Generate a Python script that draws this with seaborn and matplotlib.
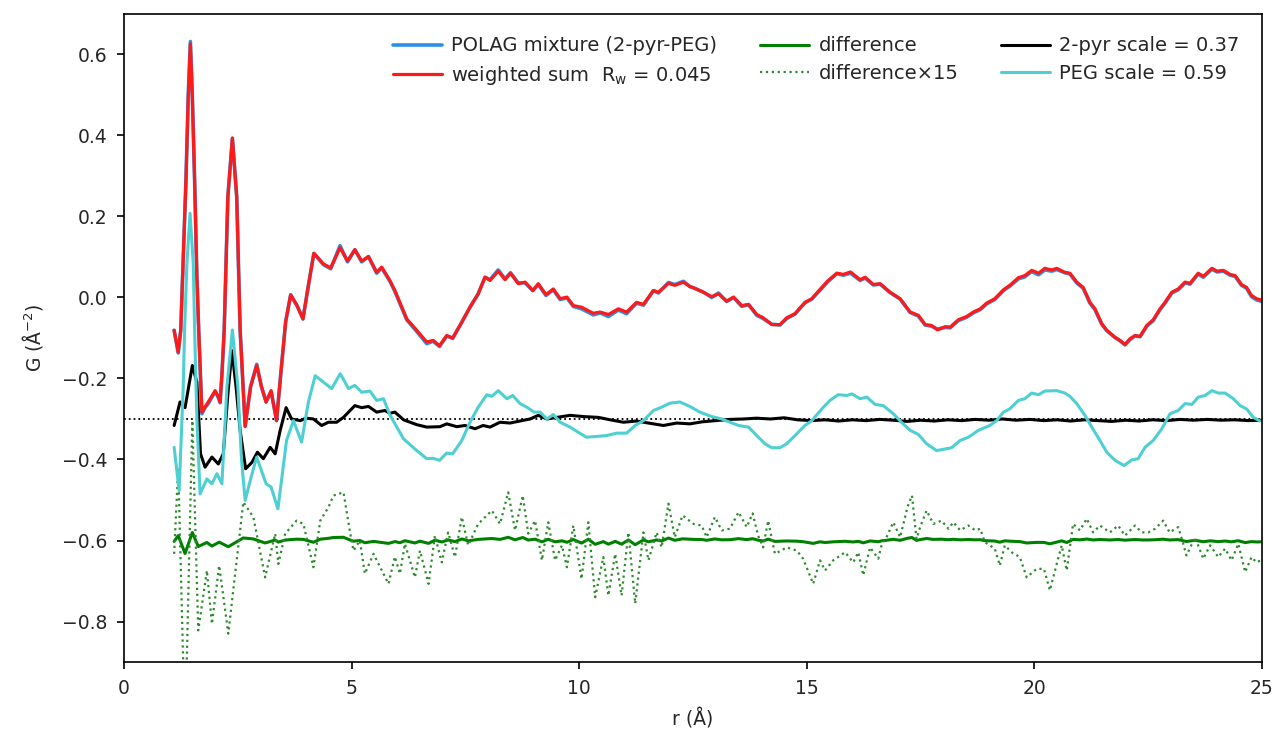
import numpy as np
import pandas as pd
import matplotlib
matplotlib.use("Agg")
import matplotlib.pyplot as plt
import seaborn as sns

# ---- PDF data (r in Angstrom, G in Angstrom^-2) ----
r_mix = [1.10, 1.19, 1.245, 1.30, 1.36, 1.41, 1.457, 1.50, 1.55, 1.60, 1.64, 1.71, 1.78, 1.85,
         2.00, 2.07, 2.11, 2.15, 2.20, 2.28, 2.38, 2.475, 2.55, 2.66, 2.78, 2.915, 3.02, 3.12,
         3.23, 3.35, 3.45, 3.55, 3.66, 3.80, 3.93, 4.05, 4.17, 4.38, 4.54, 4.745, 4.91, 5.07,
         5.22, 5.37, 5.55, 5.66, 5.84, 5.95, 6.21, 6.43, 6.65, 6.79, 6.93, 7.09, 7.22, 7.42,
         7.60, 7.78, 7.93, 8.04, 8.22, 8.37, 8.49, 8.66, 8.81, 8.98, 9.10, 9.27, 9.43, 9.58,
         9.73, 9.87, 10.05, 10.31, 10.46, 10.64, 10.86, 11.04, 11.26, 11.41, 11.63, 11.74, 11.96,
         12.10, 12.29, 12.43, 12.51, 12.73, 12.91, 13.06, 13.24, 13.39, 13.57, 13.72, 13.90,
         14.04, 14.23, 14.41, 14.56, 14.74, 14.96, 15.11, 15.33, 15.47, 15.66, 15.80, 15.96,
         16.17, 16.28, 16.46, 16.61, 16.83, 17.05, 17.27, 17.45, 17.60, 17.74, 17.87, 18.04,
         18.15, 18.33, 18.51, 18.66, 18.81, 18.95, 19.13, 19.32, 19.46, 19.65, 19.79, 19.94,
         20.09, 20.23, 20.38, 20.49, 20.67, 20.78, 20.93, 21.07, 21.22, 21.33, 21.48, 21.59,
         21.77, 21.88, 21.99, 22.10, 22.21, 22.32, 22.47, 22.61, 22.76, 22.87, 23.02, 23.16,
         23.31, 23.42, 23.60, 23.71, 23.90, 24.01, 24.15, 24.30, 24.41, 24.55, 24.66, 24.77,
         24.88, 24.97]

g_fit = [-0.081, -0.135, -0.080, 0.100, 0.289, 0.495, 0.626, 0.495, 0.289, 0.050, -0.080, -0.283,
         -0.270, -0.258, -0.230, -0.245, -0.258, -0.190, -0.080, 0.248, 0.394, 0.248, -0.080,
         -0.319, -0.220, -0.168, -0.220, -0.258, -0.230, -0.304, -0.180, -0.060, 0.007, -0.020,
         -0.053, 0.030, 0.109, 0.083, 0.073, 0.123, 0.090, 0.118, 0.090, 0.101, 0.062, 0.075,
         0.042, 0.017, -0.053, -0.081, -0.110, -0.106, -0.119, -0.094, -0.100, -0.061, -0.024,
         0.009, 0.050, 0.042, 0.065, 0.044, 0.060, 0.034, 0.038, 0.017, 0.034, 0.007, 0.021,
         -0.003, 0.001, -0.020, -0.024, -0.039, -0.036, -0.042, -0.028, -0.036, -0.012, -0.017,
         0.017, 0.013, 0.035, 0.030, 0.038, 0.027, 0.024, 0.013, 0.002, 0.009, -0.009, 0.001,
         -0.020, -0.017, -0.042, -0.050, -0.067, -0.067, -0.050, -0.040, -0.012, -0.003, 0.025,
         0.042, 0.060, 0.057, 0.063, 0.044, 0.050, 0.032, 0.034, 0.013, -0.003, -0.036, -0.044,
         -0.067, -0.069, -0.080, -0.072, -0.073, -0.055, -0.047, -0.036, -0.028, -0.014, -0.003,
         0.019, 0.030, 0.049, 0.054, 0.067, 0.060, 0.072, 0.068, 0.072, 0.062, 0.060, 0.038,
         0.025, -0.012, -0.028, -0.065, -0.081, -0.098, -0.106, -0.116, -0.102, -0.094, -0.096,
         -0.069, -0.055, -0.028, -0.012, 0.013, 0.021, 0.038, 0.035, 0.060, 0.052, 0.072, 0.065,
         0.067, 0.057, 0.054, 0.032, 0.025, 0.005, -0.003, -0.006]

g_mix = [-0.081, -0.137, -0.082, 0.100, 0.291, 0.500, 0.632, 0.498, 0.289, 0.050, -0.082, -0.287,
         -0.272, -0.262, -0.232, -0.247, -0.260, -0.190, -0.080, 0.248, 0.392, 0.248, -0.080,
         -0.317, -0.220, -0.165, -0.222, -0.258, -0.232, -0.304, -0.180, -0.060, 0.006, -0.020,
         -0.053, 0.030, 0.109, 0.081, 0.071, 0.128, 0.088, 0.118, 0.088, 0.101, 0.060, 0.073,
         0.040, 0.015, -0.055, -0.084, -0.114, -0.108, -0.121, -0.095, -0.101, -0.061, -0.024,
         0.009, 0.050, 0.044, 0.068, 0.046, 0.061, 0.036, 0.036, 0.017, 0.032, 0.005, 0.019,
         -0.005, -0.001, -0.022, -0.028, -0.043, -0.038, -0.047, -0.031, -0.040, -0.014, -0.019,
         0.017, 0.011, 0.037, 0.032, 0.040, 0.027, 0.024, 0.013, 0.000, 0.011, -0.010, 0.000,
         -0.022, -0.018, -0.044, -0.052, -0.066, -0.068, -0.052, -0.041, -0.013, -0.004, 0.023,
         0.040, 0.059, 0.055, 0.060, 0.042, 0.048, 0.031, 0.033, 0.012, -0.004, -0.037, -0.046,
         -0.068, -0.071, -0.078, -0.074, -0.075, -0.057, -0.049, -0.038, -0.030, -0.016, -0.005,
         0.017, 0.028, 0.046, 0.051, 0.064, 0.056, 0.068, 0.065, 0.069, 0.061, 0.058, 0.036,
         0.023, -0.014, -0.030, -0.066, -0.082, -0.099, -0.107, -0.117, -0.104, -0.095, -0.097,
         -0.071, -0.057, -0.030, -0.014, 0.011, 0.019, 0.036, 0.033, 0.058, 0.050, 0.070, 0.063,
         0.065, 0.055, 0.052, 0.030, 0.023, 0.002, -0.006, -0.009]

r_pyr = [1.10, 1.23, 1.34, 1.42, 1.50, 1.60, 1.68, 1.78, 1.93, 2.07, 2.18, 2.28, 2.37, 2.46, 2.55,
         2.67, 2.81, 2.93, 3.06, 3.21, 3.32, 3.43, 3.56, 3.68, 3.87, 4.00, 4.16, 4.34, 4.49, 4.67,
         4.82, 5.07, 5.22, 5.37, 5.55, 5.73, 5.84, 5.95, 6.14, 6.43, 6.65, 6.94, 7.09, 7.31, 7.49,
         7.71, 7.89, 8.04, 8.26, 8.48, 8.74, 8.92, 9.10, 9.29, 9.51, 9.80, 10.09, 10.42, 10.68,
         10.97, 11.26, 11.52, 11.85, 12.14, 12.43, 12.70, 13.00, 13.30, 13.60, 13.90, 14.20,
         14.50, 14.80, 15.10, 15.40, 15.70, 16.00, 16.30, 16.60, 16.90, 17.20, 17.50, 17.80,
         18.10, 18.40, 18.70, 19.00, 19.30, 19.60, 19.90, 20.20, 20.50, 20.80, 21.10, 21.40,
         21.70, 22.00, 22.30, 22.60, 22.90, 23.20, 23.50, 23.80, 24.10, 24.40, 24.70, 25.00]
g_pyr = [-0.316, -0.258, -0.272, -0.220, -0.168, -0.209, -0.386, -0.419, -0.394, -0.411, -0.386,
         -0.240, -0.131, -0.220, -0.328, -0.423, -0.407, -0.382, -0.398, -0.370, -0.386, -0.328,
         -0.272, -0.300, -0.304, -0.298, -0.300, -0.316, -0.308, -0.308, -0.296, -0.267, -0.272,
         -0.269, -0.283, -0.279, -0.286, -0.283, -0.302, -0.314, -0.320, -0.319, -0.312, -0.319,
         -0.316, -0.324, -0.316, -0.320, -0.308, -0.310, -0.304, -0.300, -0.291, -0.300, -0.296,
         -0.291, -0.294, -0.296, -0.302, -0.308, -0.305, -0.310, -0.316, -0.310, -0.312, -0.307,
         -0.304, -0.301, -0.300, -0.298, -0.300, -0.297, -0.302, -0.304, -0.302, -0.305, -0.302,
         -0.304, -0.301, -0.303, -0.306, -0.303, -0.305, -0.302, -0.304, -0.301, -0.303, -0.300,
         -0.303, -0.301, -0.304, -0.302, -0.305, -0.302, -0.304, -0.306, -0.303, -0.305, -0.302,
         -0.304, -0.301, -0.303, -0.301, -0.303, -0.302, -0.304, -0.303]

r_peg = [1.10, 1.21, 1.30, 1.33, 1.38, 1.45, 1.52, 1.55, 1.60, 1.67, 1.82, 1.93, 2.04, 2.15, 2.26,
         2.38, 2.50, 2.58, 2.66, 2.80, 2.915, 3.12, 3.23, 3.38, 3.57, 3.72, 3.90, 4.05, 4.20, 4.38,
         4.56, 4.75, 4.93, 5.07, 5.22, 5.40, 5.55, 5.70, 5.84, 6.14, 6.43, 6.65, 6.79, 6.93, 7.09,
         7.22, 7.42, 7.60, 7.78, 7.97, 8.08, 8.22, 8.41, 8.54, 8.70, 8.85, 9.01, 9.14, 9.29, 9.43,
         9.58, 9.80, 9.98, 10.16, 10.38, 10.60, 10.82, 11.04, 11.23, 11.41, 11.63, 11.81, 11.99,
         12.21, 12.43, 12.65, 12.91, 13.13, 13.31, 13.50, 13.72, 13.90, 14.08, 14.23, 14.41,
         14.56, 14.74, 14.96, 15.11, 15.33, 15.51, 15.69, 15.88, 15.99, 16.17, 16.32, 16.50,
         16.68, 16.90, 17.08, 17.27, 17.45, 17.63, 17.85, 18.04, 18.18, 18.37, 18.55, 18.77,
         19.02, 19.17, 19.32, 19.46, 19.65, 19.79, 19.94, 20.09, 20.23, 20.49, 20.67, 20.78,
         20.93, 21.11, 21.26, 21.44, 21.59, 21.77, 21.97, 22.14, 22.28, 22.43, 22.61, 22.80,
         22.98, 23.16, 23.31, 23.46, 23.60, 23.75, 23.90, 24.04, 24.19, 24.37, 24.52, 24.66,
         24.81, 24.96]
g_peg = [-0.370, -0.477, -0.221, -0.080, 0.083, 0.208, 0.083, -0.080, -0.300, -0.485, -0.448,
         -0.460, -0.435, -0.460, -0.221, -0.080, -0.221, -0.400, -0.501, -0.440, -0.394, -0.460,
         -0.468, -0.522, -0.353, -0.304, -0.357, -0.258, -0.193, -0.209, -0.225, -0.188, -0.225,
         -0.217, -0.234, -0.231, -0.254, -0.250, -0.290, -0.349, -0.378, -0.398, -0.397, -0.402,
         -0.384, -0.386, -0.353, -0.308, -0.271, -0.240, -0.244, -0.230, -0.250, -0.242, -0.262,
         -0.271, -0.283, -0.283, -0.300, -0.289, -0.308, -0.320, -0.333, -0.345, -0.343, -0.341,
         -0.335, -0.335, -0.316, -0.304, -0.279, -0.271, -0.261, -0.258, -0.269, -0.283, -0.294,
         -0.300, -0.308, -0.316, -0.320, -0.341, -0.361, -0.371, -0.371, -0.361, -0.341, -0.316,
         -0.304, -0.275, -0.254, -0.240, -0.242, -0.238, -0.250, -0.246, -0.264, -0.267, -0.287,
         -0.308, -0.328, -0.338, -0.361, -0.378, -0.374, -0.371, -0.353, -0.345, -0.328, -0.316,
         -0.304, -0.283, -0.275, -0.254, -0.250, -0.236, -0.240, -0.231, -0.230, -0.236, -0.244,
         -0.262, -0.291, -0.320, -0.353, -0.382, -0.402, -0.415, -0.401, -0.398, -0.370, -0.353,
         -0.324, -0.287, -0.279, -0.262, -0.264, -0.246, -0.242, -0.230, -0.236, -0.236, -0.250,
         -0.267, -0.275, -0.296, -0.305]

# difference (data - weighted sum), stored multiplied by 15
r_diff = [1.10, 1.19, 1.34, 1.50, 1.63, 1.82, 1.93, 2.09, 2.29, 2.62, 2.84, 3.10, 3.32, 3.39, 3.54,
          3.79, 3.94, 4.16, 4.31, 4.49, 4.60, 4.82, 4.97, 5.04, 5.18, 5.29, 5.48, 5.81, 5.95,
          6.06, 6.17, 6.39, 6.50, 6.69, 6.83, 6.98, 7.12, 7.27, 7.42, 7.56, 7.78, 8.08, 8.26,
          8.44, 8.59, 8.76, 8.88, 9.03, 9.18, 9.32, 9.47, 9.62, 9.73, 9.87, 10.05, 10.20, 10.35,
          10.53, 10.64, 10.79, 10.93, 11.08, 11.23, 11.41, 11.52, 11.70, 11.81, 11.96, 12.10,
          12.27, 12.51, 12.69, 12.80, 12.98, 13.13, 13.31, 13.50, 13.68, 13.81, 13.93, 14.04,
          14.15, 14.30, 14.56, 14.78, 14.92, 15.14, 15.29, 15.40, 15.58, 15.84, 16.02, 16.13,
          16.24, 16.39, 16.57, 16.65, 16.75, 16.90, 17.05, 17.21, 17.31, 17.41, 17.49, 17.63,
          17.78, 17.96, 18.11, 18.22, 18.37, 18.55, 18.70, 18.81, 18.91, 19.13, 19.24, 19.35,
          19.50, 19.68, 19.83, 20.05, 20.21, 20.34, 20.49, 20.60, 20.71, 20.85, 21.00, 21.15,
          21.29, 21.44, 21.66, 21.84, 21.99, 22.21, 22.36, 22.50, 22.65, 22.83, 22.97, 23.16,
          23.27, 23.34, 23.53, 23.71, 23.86, 24.04, 24.19, 24.33, 24.48, 24.63, 24.77, 24.88,
          24.97]
diff_x15 = [-0.033, 0.181, -0.480, 0.296, -0.222, -0.074, -0.206, -0.062, -0.230, 0.095, 0.058,
            -0.091, 0.017, -0.058, 0.017, 0.049, 0.041, -0.066, 0.049, 0.082, 0.111, 0.119, 0.017,
            -0.025, 0.000, -0.082, -0.033, -0.107, -0.040, -0.082, -0.008, -0.091, -0.025, -0.107,
            0.012, -0.054, 0.020, -0.041, 0.058, -0.012, 0.041, 0.074, 0.041, 0.119, 0.025, 0.111,
            0.017, 0.049, -0.049, 0.045, -0.049, -0.012, -0.066, 0.037, -0.095, 0.045, -0.140,
            -0.041, -0.136, -0.033, -0.136, 0.020, -0.156, 0.020, -0.049, 0.020, -0.017, 0.091,
            0.008, 0.062, 0.041, 0.037, 0.008, 0.058, 0.025, 0.029, 0.070, 0.033, 0.067, 0.012,
            -0.017, 0.049, -0.033, -0.017, -0.025, -0.045, -0.107, -0.049, -0.074, -0.049, -0.029,
            -0.054, -0.029, -0.086, -0.017, -0.045, -0.008, 0.008, 0.045, 0.008, 0.082, 0.111,
            0.004, 0.033, 0.074, 0.041, 0.049, 0.029, 0.045, 0.025, 0.037, 0.025, 0.029, -0.004,
            -0.020, -0.062, -0.012, -0.029, -0.041, -0.091, -0.070, -0.070, -0.123, -0.058, -0.012,
            -0.074, 0.041, 0.025, 0.054, 0.020, 0.037, 0.020, 0.037, 0.012, 0.037, 0.020, 0.020,
            0.029, 0.049, 0.020, 0.033, -0.008, -0.037, 0.008, -0.045, -0.012, -0.041, -0.020,
            -0.049, -0.008, -0.078, -0.041, -0.054, -0.049]

diff_offset = -0.6
comp_offset = -0.3

fit_df = pd.DataFrame({"r": r_mix, "mix": g_mix, "fit": g_fit})
pyr_df = pd.DataFrame({"r": r_pyr, "G": g_pyr})
peg_df = pd.DataFrame({"r": r_peg, "G": g_peg})
diff_df = pd.DataFrame({"r": r_diff, "x15": diff_x15})
diff_df["diff"] = diff_df["x15"] / 15.0 + diff_offset
diff_df["diff15"] = diff_df["x15"] + diff_offset

sns.set_theme(style="ticks")
plt.rcParams["font.family"] = ["DejaVu Sans"]
plt.rcParams["axes.edgecolor"] = "black"
plt.rcParams["axes.linewidth"] = 1.2

fig = plt.figure(figsize=(12.79, 7.35), dpi=100)
ax = fig.add_axes([0.097, 0.0993, 0.8897, 0.8817])

ax.axhline(comp_offset, color="black", linestyle=":", linewidth=1.3, zorder=1)

common = dict(ax=ax, sort=False, estimator=None, legend=False)
sns.lineplot(data=fit_df, x="r", y="mix", color="#2a8fe8", linewidth=2.6,
             label="POLAG mixture (2-pyr-PEG)", **common)
sns.lineplot(data=fit_df, x="r", y="fit", color="#ff1a1a", linewidth=2.3,
             label=r"weighted sum  $\mathregular{R_w}$ = 0.045", **common)
sns.lineplot(data=diff_df, x="r", y="diff", color="#008000", linewidth=2.2,
             label="difference", **common)
sns.lineplot(data=diff_df, x="r", y="diff15", color="#2e8b2e", linewidth=1.6,
             linestyle=":", label="difference×15", **common)
sns.lineplot(data=pyr_df, x="r", y="G", color="black", linewidth=2.2,
             label="2-pyr scale = 0.37", **common)
sns.lineplot(data=peg_df, x="r", y="G", color="#4ecfd2", linewidth=2.2,
             label="PEG scale = 0.59", **common)

ax.set_xlim(0, 25)
ax.set_ylim(-0.9, 0.7)
ax.set_xticks([0, 5, 10, 15, 20, 25])
ax.set_yticks([-0.8, -0.6, -0.4, -0.2, 0.0, 0.2, 0.4, 0.6])
ax.tick_params(axis="both", labelsize=13.5, length=5, width=1.2, color="black",
               direction="out", top=False, right=False, pad=7)
ax.set_xlabel("r (Å)", fontsize=13.5, labelpad=8)
ax.set_ylabel(r"G (Å$^{-2}$)", fontsize=13.5, labelpad=12)
for s in ax.spines.values():
    s.set_visible(True)
    s.set_color("black")

ax.legend(loc="upper right", ncol=3, frameon=False, fontsize=14,
          handlelength=2.5, handletextpad=0.5, columnspacing=2.2,
          labelspacing=0.45, borderaxespad=0.75)

fig.savefig("out.png", dpi=100)
